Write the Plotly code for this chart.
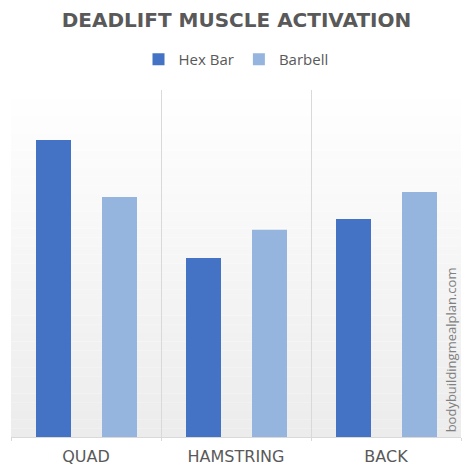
import plotly.graph_objects as go

categories = ["QUAD", "HAMSTRING", "BACK"]
hex_bar = [85.6, 51.6, 62.8]
barbell = [69.2, 59.7, 70.6]

title_text = "DEADLIFT MUSCLE ACTIVATION"
watermark = "bodybuildingmealplan.com"

HEX_COLOR = "#4472C4"
BARBELL_COLOR = "#95B5DF"
TEXT_COLOR = "#595959"
GRID_COLOR = "#d9d9d9"

fig = go.Figure()
fig.add_trace(go.Bar(name="Hex Bar", x=categories, y=hex_bar, marker_color=HEX_COLOR,
                     marker_line_width=0, width=0.2333, offset=-0.3333))
fig.add_trace(go.Bar(name="Barbell", x=categories, y=barbell, marker_color=BARBELL_COLOR,
                     marker_line_width=0, width=0.2333, offset=0.1067))

# subtle vertical gradient background (white at top to light gray at bottom)
n = 40
shapes = []
for i in range(n):
    t = (i + 0.5) / n  # 0 at bottom, 1 at top
    v = int(round(0xec + (0xff - 0xec) * t))
    col = f"rgb({v},{v},{v})"
    shapes.append(dict(type="rect", xref="paper", yref="paper", x0=0, x1=1,
                       y0=i / n, y1=(i + 1) / n, fillcolor=col, line_width=0, layer="below"))

fig.update_layout(
    width=473, height=472,
    margin=dict(l=11, r=12, t=90, b=35, autoexpand=False),
    paper_bgcolor="white", plot_bgcolor="white",
    barmode="overlay",
    showlegend=True,
    title=dict(text="<b>" + title_text + "</b>", x=0.5, xanchor="center", y=0.957, yanchor="middle",
               font=dict(family="DejaVu Sans", size=20, color=TEXT_COLOR)),
    legend=dict(orientation="h", x=0.5, xanchor="center", y=1.088, yanchor="middle",
                font=dict(family="Open Sans", size=15, color=TEXT_COLOR),
                itemwidth=30, traceorder="normal", itemsizing="constant"),
    xaxis=dict(type="category", tickson="boundaries", showgrid=True, gridcolor=GRID_COLOR,
               gridwidth=1, showline=True, linecolor=GRID_COLOR, linewidth=1,
               ticks="outside", ticklen=3, tickcolor=GRID_COLOR, ticklabelstandoff=5,
               automargin=False,
               tickfont=dict(family="DejaVu Sans", size=16, color=TEXT_COLOR),
               range=[-0.5, 2.5]),
    yaxis=dict(range=[0, 100], showgrid=False, showticklabels=False, zeroline=False,
               showline=False, ticks="", automargin=False),
    shapes=shapes,
    annotations=[dict(text=watermark, xref="paper", yref="paper", x=0.978, y=0.25,
                      xanchor="center", yanchor="middle", textangle=-90, showarrow=False,
                      font=dict(family="Open Sans", size=13, color="#808080"))],
)

fig.write_html("out.html", config={"displayModeBar": False},
               post_script="document.body.style.margin='0';")
